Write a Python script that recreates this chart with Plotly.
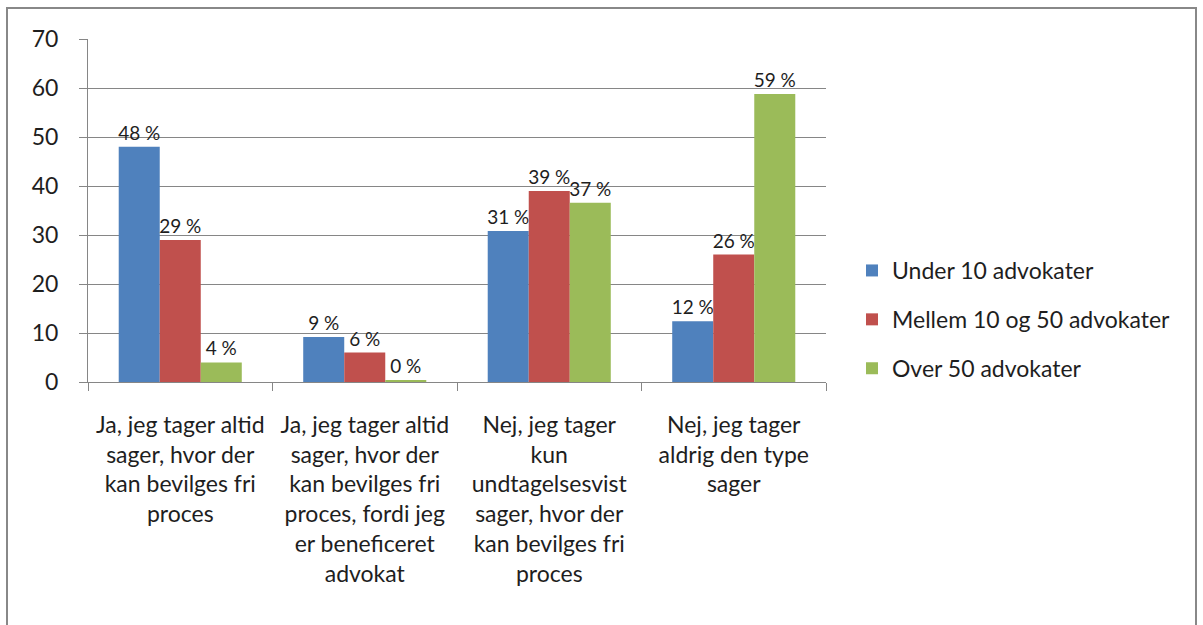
import plotly.graph_objects as go

categories = [
    "Ja, jeg tager altid<br>sager, hvor der<br>kan bevilges fri<br>proces",
    "Ja, jeg tager altid<br>sager, hvor der<br>kan bevilges fri<br>proces, fordi jeg<br>er beneficeret<br>advokat",
    "Nej, jeg tager<br>kun<br>undtagelsesvist<br>sager, hvor der<br>kan bevilges fri<br>proces",
    "Nej, jeg tager<br>aldrig den type<br>sager",
]
series_names = ["Under 10 advokater", "Mellem 10 og 50 advokater", "Over 50 advokater"]
under_10 = [48, 9.2, 30.8, 12.4]
mellem_10_50 = [29, 6, 39, 26]
over_50 = [4, 0.4, 36.6, 58.8]
colors = ["#4F81BD", "#C0504D", "#9BBB59"]
y_ticks = [0, 10, 20, 30, 40, 50, 60, 70]

FONT = "Lato"
FS = 23
LBL_FS = 19
TXT = "#1e1e1e"
fig = go.Figure()
for i, (name, vals) in enumerate(zip(series_names, [under_10, mellem_10_50, over_50])):
    fig.add_trace(go.Bar(
        x=categories, y=vals, name=name,
        marker=dict(color=colors[i], line=dict(width=0)),
        text=[f"{v:.0f} %" for v in vals],
        textposition="outside", constraintext="none", cliponaxis=False,
        textfont=dict(family=FONT, size=LBL_FS, color=TXT),
        legendgroup=f"g{i}",
    ))

W, H = 1203, 625
L, R, T, B = 88, 826, 39, 382
pw, ph = R - L, B - T

def px_x(p):
    return (p - L) / pw

def px_y(p):
    return (B - p) / ph

fig.update_layout(
    width=W, height=H,
    margin=dict(l=L, r=W - R, t=T, b=H - B, autoexpand=False),
    paper_bgcolor="white", plot_bgcolor="white",
    barmode="group", bargap=0.333, bargroupgap=0,
    font=dict(family=FONT, size=FS, color=TXT),
    legend=dict(x=px_x(852), y=px_y(249), xanchor="left", yanchor="top",
                font=dict(family=FONT, size=FS, color=TXT),
                tracegroupgap=16, itemwidth=30),
    xaxis=dict(showline=True, linecolor="#868686", linewidth=1,
               ticks="outside", tickson="boundaries", ticklen=8, tickcolor="#868686",
               showgrid=False, ticklabelstandoff=22, automargin=False,
               tickfont=dict(family=FONT, size=FS, color=TXT)),
    yaxis=dict(range=[0, 70], tickvals=y_ticks, showline=True, linecolor="#868686",
               linewidth=1, ticks="outside", ticklen=8, tickcolor="#868686",
               showgrid=True, gridcolor="#868686", gridwidth=1, zeroline=False,
               ticklabelstandoff=16, automargin=False,
               tickfont=dict(family=FONT, size=FS, color=TXT)),
    showlegend=True,
    shapes=[dict(type="rect", xref="paper", yref="paper",
                 x0=px_x(7), x1=px_x(1196), y0=px_y(640), y1=px_y(8),
                 line=dict(color="#888888", width=2), fillcolor="rgba(0,0,0,0)", layer="below")],
)
fig.write_html("out.html", config={"displayModeBar": False},
               post_script="document.body.style.margin='0';")
